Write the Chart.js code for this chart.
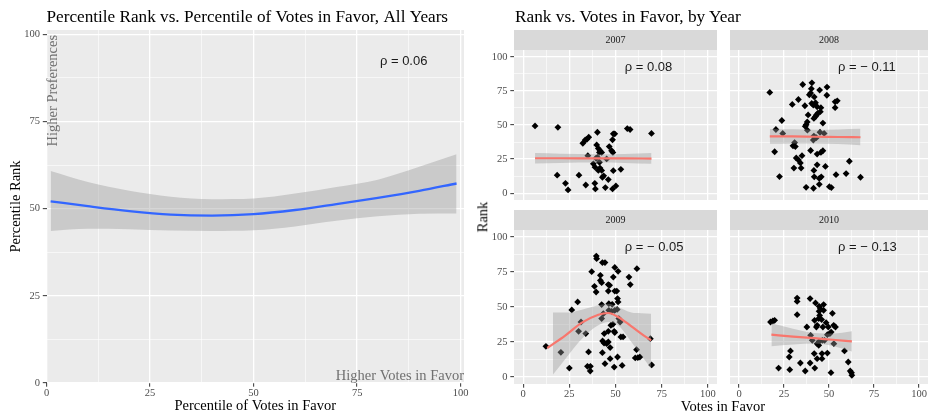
<!DOCTYPE html>
<html>
<head>
<meta charset="utf-8">
<script src="https://cdn.jsdelivr.net/npm/chart.js@4.4.1/dist/chart.umd.min.js"></script>
<style>
  html, body { margin: 0; padding: 0; width: 928px; height: 415px; overflow: hidden; background: #fff; }
  .box { position: absolute; }
  .txt { position: absolute; white-space: nowrap; font-family: "Liberation Serif", "Times New Roman", serif; color: #000; line-height: 1.2; }
</style>
</head>
<body>
<div class="box" style="left:0;top:0;width:470px;height:415px"><canvas id="cAll"></canvas></div>
<div class="box" style="left:484px;top:0;width:237px;height:204px"><canvas id="c2007"></canvas></div>
<div class="box" style="left:726px;top:0;width:206px;height:204px"><canvas id="c2008"></canvas></div>
<div class="box" style="left:484px;top:210px;width:237px;height:205px"><canvas id="c2009"></canvas></div>
<div class="box" style="left:726px;top:210px;width:206px;height:205px"><canvas id="c2010"></canvas></div>

<div class="txt" id="facetTitle" style="left:515px;top:17px;font-size:17.3px;transform:translateY(-50%)"></div>
<div class="txt" id="facetY" style="left:483px;top:217px;font-size:14.5px;transform:translate(-50%,-50%) rotate(-90deg)"></div>
<div class="txt" id="facetX" style="left:723px;top:407px;font-size:14.5px;transform:translate(-50%,-50%)"></div>

<script>
// ---------- all years: smoothed fit with confidence band ----------
const ALL_X     = [1, 10, 20, 30, 40, 50, 60, 70, 80, 90, 99];
const ALL_FIT   = [52.1, 50.7, 49.3, 48.3, 48.0, 48.4, 49.6, 51.3, 53.1, 55.1, 57.2];
const ALL_UPPER = [60.8, 57.6, 55.1, 53.4, 52.7, 52.9, 54.3, 56.2, 58.3, 62.0, 65.6];
const ALL_LOWER = [43.6, 44.2, 44.1, 43.7, 43.6, 43.8, 44.9, 46.5, 47.8, 48.5, 48.6];
const ALL_RHO   = 'ρ = 0.06';

// ---------- axis ticks ----------
const AXIS_TICKS = [0, 25, 50, 75, 100];
const GRID_STEPS = [0, 12.5, 25, 37.5, 50, 62.5, 75, 87.5, 100];

// ---------- text ----------
const TITLE_ALL   = 'Percentile Rank vs. Percentile of Votes in Favor, All Years';
const TITLE_FACET = 'Rank vs. Votes in Favor, by Year';
const X_TITLE_ALL = 'Percentile of Votes in Favor';
const Y_TITLE_ALL = 'Percentile Rank';
const X_TITLE_FACET = 'Votes in Favor';
const Y_TITLE_FACET = 'Rank';
const NOTE_Y = 'Higher Preferences';
const NOTE_X = 'Higher Votes in Favor';

// ---------- by year ----------
const YEARS = ['2007', '2008', '2009', '2010'];
const RHO   = ['ρ = 0.08', 'ρ = − 0.11', 'ρ = − 0.05', 'ρ = − 0.13'];

const VOTES_2007 = [6.4, 18.8, 18.4, 22.9, 24.3, 30.2, 32.3, 33.6, 34.5, 35.5, 33.9, 35.0, 38.8, 39.1, 40.2, 39.8, 40.7, 41.3, 41.6, 42.5, 40.2, 38.0, 38.9, 40.7, 41.6, 42.5, 41.3, 43.6, 42.9, 46.1, 44.5, 48.4, 50.2, 48.8, 52.9, 46.6, 47.9, 48.6, 48.4, 48.8, 49.6, 56.4, 57.9, 69.5, 45.2, 39.5];
const RANK_2007  = [49.3, 48.3, 13.2, 7.2, 2.4, 13.2, 36.6, 39.0, 39.5, 41.1, 6.0, 27.5, 7.2, 3.1, 44.7, 35.4, 32.8, 29.9, 31.1, 29.9, 26.3, 21.5, 19.1, 16.7, 18.4, 16.7, 22.7, 12.7, 11.7, 10.0, 4.1, 3.1, 5.3, 16.5, 17.5, 34.2, 31.1, 29.9, 39.2, 43.5, 43.5, 47.4, 46.7, 43.8, 25.1, 25.6];

const VOTES_2008 = [17.1, 35.4, 40.5, 40.2, 39.8, 39.1, 41.8, 44.8, 48.9, 48.8, 33.0, 29.6, 36.6, 40.4, 41.3, 42.5, 43.4, 45.5, 45.2, 53.4, 54.6, 53.4, 38.4, 43.8, 43.0, 42.5, 41.6, 37.9, 37.3, 36.8, 23.8, 20.5, 24.3, 46.6, 38.0, 45.0, 47.3, 41.6, 41.3, 43.0, 30.9, 30.0, 31.3, 19.8, 39.8, 43.4, 46.6, 45.5, 35.0, 31.8, 33.0, 34.1, 30.5, 34.5, 43.4, 48.0, 61.3, 41.6, 22.5, 41.8, 44.6, 45.7, 53.9, 59.5, 67.5, 37.3, 41.4, 44.6, 50.2, 51.3];
const RANK_2008  = [73.9, 79.7, 80.9, 76.6, 73.4, 72.2, 70.6, 75.6, 77.8, 71.8, 68.7, 65.1, 64.1, 65.8, 64.6, 66.3, 63.4, 62.7, 59.8, 67.0, 67.7, 62.7, 57.4, 58.6, 57.4, 56.2, 54.8, 52.2, 50.2, 49.0, 53.3, 46.7, 43.8, 51.4, 46.2, 44.7, 43.8, 41.9, 39.0, 40.7, 37.1, 34.7, 34.2, 30.4, 31.3, 28.7, 31.1, 29.9, 27.5, 25.8, 24.4, 22.2, 18.4, 18.4, 20.8, 19.6, 23.4, 16.7, 12.2, 12.0, 10.8, 12.0, 13.6, 14.4, 11.7, 4.3, 3.6, 6.5, 4.8, 4.1];

const VOTES_2009 = [12.3, 20.4, 25.0, 26.3, 29.5, 30.0, 31.3, 33.9, 35.4, 34.8, 36.4, 36.3, 37.1, 38.6, 39.5, 39.6, 39.8, 42.9, 44.3, 41.8, 41.8, 42.5, 46.1, 46.8, 49.6, 51.4, 48.8, 46.1, 49.6, 50.7, 51.1, 51.4, 42.5, 46.4, 48.2, 43.4, 42.5, 46.4, 47.9, 49.6, 50.9, 51.8, 47.5, 48.6, 49.3, 49.6, 43.9, 46.1, 43.0, 43.8, 45.2, 46.1, 47.1, 42.9, 44.3, 47.1, 49.3, 51.1, 53.6, 52.9, 54.1, 52.5, 57.3, 58.0, 61.6, 60.7, 61.4, 62.1, 63.2, 68.9, 69.6];
const RANK_2009  = [21.9, 17.6, 6.4, 47.9, 53.6, 32.6, 39.3, 31.0, 17.9, 7.6, 7.6, 4.3, 75.2, 64.8, 60.7, 86.4, 84.5, 81.7, 81.7, 72.6, 69.0, 67.4, 66.0, 65.5, 78.3, 75.5, 71.4, 61.4, 61.4, 61.4, 56.0, 53.6, 51.7, 52.4, 51.9, 45.2, 41.7, 47.6, 46.9, 47.6, 48.3, 41.7, 36.9, 37.6, 32.6, 31.7, 31.0, 32.6, 25.7, 24.3, 23.8, 25.0, 21.0, 17.4, 9.5, 13.1, 7.1, 14.3, 8.3, 28.6, 28.6, 39.3, 71.4, 66.0, 77.4, 13.6, 19.5, 13.8, 14.3, 27.4, 8.6];

const VOTES_2010 = [17.5, 18.8, 19.8, 22.0, 28.2, 27.9, 28.6, 32.3, 32.3, 32.3, 34.1, 36.8, 37.7, 39.5, 39.5, 39.8, 40.7, 41.8, 42.1, 42.5, 42.0, 43.4, 43.0, 43.4, 44.3, 43.4, 44.5, 45.2, 44.5, 44.8, 44.3, 45.9, 47.0, 46.6, 46.3, 46.1, 46.1, 48.4, 49.1, 49.1, 47.5, 49.6, 50.5, 51.2, 51.9, 52.6, 53.6, 52.7, 51.1, 58.6, 60.7, 61.8, 62.5, 62.7, 47.0, 44.6];
const RANK_2010  = [39.3, 40.0, 40.5, 6.4, 5.2, 14.3, 18.6, 56.4, 54.0, 44.5, 10.0, 4.3, 35.7, 56.0, 10.0, 29.8, 26.2, 16.7, 6.4, 52.9, 40.5, 36.9, 35.7, 23.8, 22.6, 13.1, 50.5, 48.8, 46.9, 44.0, 41.7, 41.0, 47.6, 35.7, 26.2, 16.7, 13.1, 38.8, 17.1, 30.2, 26.2, 35.7, 31.0, 32.1, 45.5, 36.9, 35.7, 23.8, 3.1, 18.6, 10.7, 4.3, 3.1, 1.2, 51.7, 25.5];

// smoothed fits per year (x, fitted value, band)
const FIT_X_2007   = [6.4, 20, 40, 55, 69.5];
const FIT_2007     = [25.6, 25.6, 25.5, 25.5, 25.4];
const UPPER_2007   = [29.4, 28.9, 28.5, 28.8, 29.4];
const LOWER_2007   = [21.7, 22.2, 22.5, 22.2, 21.5];

const FIT_X_2008   = [17.1, 30, 42, 55, 67.5];
const FIT_2008     = [41.7, 41.6, 41.4, 41.2, 41.0];
const UPPER_2008   = [47.1, 46.8, 46.5, 46.7, 47.2];
const LOWER_2008   = [36.2, 36.4, 36.5, 36.1, 35.2];

const FIT_X_2009   = [13, 22.9, 31.8, 40.7, 46.1, 51.4, 58.6, 63.9, 69.3];
const FIT_2009     = [20.7, 29.8, 38.8, 44.5, 45.7, 42.9, 36.2, 31.0, 26.2];
const BAND_X_2009  = [16.1, 22.9, 31.8, 40.7, 46.1, 51.4, 58.6, 63.9, 69.3];
const UPPER_2009   = [46.0, 46.0, 48.1, 51.2, 52.4, 50.0, 46.0, 45.5, 45.2];
const LOWER_2009   = [1.7, 13.1, 27.4, 36.9, 39.3, 36.9, 25.0, 15.5, 6.0];

const FIT_X_2010   = [18, 30, 42, 52, 62.7];
const FIT_2010     = [30.2, 28.9, 27.7, 26.6, 25.5];
const UPPER_2010   = [38.4, 34.5, 31.5, 31.1, 32.7];
const LOWER_2010   = [22.0, 23.3, 23.9, 22.1, 18.3];

// ---------- styling ----------
const SERIF = '"Liberation Serif", "Times New Roman", serif';
const SANS  = '"Liberation Sans", Arial, sans-serif';
const TICK_FONT = { family: SERIF, size: 10.5, lineHeight: 1.2 };
const BAND_FILL = 'rgba(153,153,153,0.4)';

const isMajor = v => AXIS_TICKS.includes(v);
const pairs = (xs, ys) => xs.map((x, i) => ({ x, y: ys[i] }));

function linearAxis(min, max, show, size, title, labelPad) {
  return {
    type: 'linear', min, max,
    border: { display: false },
    grid: {
      color: '#FFFFFF',
      lineWidth: c => (c.tick && isMajor(c.tick.value)) ? 1.3 : 0.6,
      drawTicks: show,
      tickLength: 3.7,
      tickWidth: 1,
      tickColor: c => (c.tick && isMajor(c.tick.value)) ? '#333333' : 'rgba(0,0,0,0)'
    },
    afterBuildTicks: s => { s.ticks = GRID_STEPS.filter(v => v >= min && v <= max).map(v => ({ value: v })); },
    ticks: {
      display: show, autoSkip: false, maxRotation: 0, minRotation: 0,
      padding: labelPad, color: '#4D4D4D', font: TICK_FONT,
      callback: v => isMajor(v) ? String(v) : ''
    },
    title: title || { display: false },
    afterFit: s => {
      if (s.isHorizontal()) s.height = size; else s.width = size;
      s.paddingLeft = 0; s.paddingRight = 0; s.paddingTop = 0; s.paddingBottom = 0;
    }
  };
}

// grey panel and facet strip behind everything
const panelPlugin = {
  id: 'panel',
  beforeDraw(chart, args, opts) {
    const { ctx, chartArea: a } = chart;
    ctx.save();
    ctx.fillStyle = '#EBEBEB';
    ctx.fillRect(a.left, a.top, a.right - a.left, a.bottom - a.top);
    if (opts.strip) {
      ctx.fillStyle = '#D9D9D9';
      ctx.fillRect(a.left, a.top - opts.strip, a.right - a.left, opts.strip);
    }
    ctx.restore();
  }
};

// text notes placed in data coordinates
const notesPlugin = {
  id: 'notes',
  afterDatasetsDraw(chart, args, opts) {
    const { ctx, scales: { x, y } } = chart;
    for (const n of (opts.items || [])) {
      ctx.save();
      ctx.font = n.font;
      ctx.fillStyle = n.color;
      ctx.textAlign = n.align;
      ctx.textBaseline = n.baseline;
      ctx.translate(x.getPixelForValue(n.x), y.getPixelForValue(n.y));
      if (n.rotate) ctx.rotate(n.rotate);
      ctx.fillText(n.text, 0, 0);
      ctx.restore();
    }
  }
};

const baseOptions = {
  responsive: true,
  maintainAspectRatio: false,
  animation: false,
  events: []
};

// ---------- all years chart ----------
new Chart(document.getElementById('cAll'), {
  type: 'scatter',
  data: {
    datasets: [
      { type: 'line', data: pairs(ALL_X, ALL_FIT), borderColor: '#3366FF', borderWidth: 2.3,
        pointRadius: 0, cubicInterpolationMode: 'monotone', fill: false, order: 0 },
      { type: 'line', data: pairs(ALL_X, ALL_UPPER), borderWidth: 0, pointRadius: 0,
        cubicInterpolationMode: 'monotone', fill: false, order: 1 },
      { type: 'line', data: pairs(ALL_X, ALL_LOWER), borderWidth: 0, pointRadius: 0,
        cubicInterpolationMode: 'monotone', fill: '-1', backgroundColor: BAND_FILL, order: 1 }
    ]
  },
  options: {
    ...baseOptions,
    layout: { padding: { left: 0, right: 6, top: 0, bottom: 0 } },
    scales: {
      x: linearAxis(0, 100.8, true, 32, {
        display: true, text: X_TITLE_ALL, color: '#000',
        font: { family: SERIF, size: 14.5, lineHeight: 1.2 }, padding: { top: 0, bottom: 0 }
      }, 0.6),
      y: linearAxis(0, 101.2, true, 46.5, {
        display: true, text: Y_TITLE_ALL, color: '#000',
        font: { family: SERIF, size: 14.5, lineHeight: 1.2 }, padding: { top: 7.3, bottom: 0 }
      }, 2.9)
    },
    plugins: {
      legend: { display: false },
      tooltip: { enabled: false },
      title: {
        display: true, text: TITLE_ALL, align: 'start', fullSize: false, color: '#000',
        font: { family: SERIF, size: 17.2, weight: 'normal', lineHeight: 1.2 },
        padding: { top: 6.8, bottom: 2.6 }
      },
      panel: {},
      notes: {
        items: [
          { text: ALL_RHO, x: 80.5, y: 92.1, font: '13px ' + SANS, color: '#1A1A1A', align: 'left', baseline: 'middle' },
          { text: NOTE_Y, x: 1.5, y: 99.8, font: '14.5px ' + SERIF, color: '#707070', align: 'right', baseline: 'middle', rotate: -Math.PI / 2 },
          { text: NOTE_X, x: 100.8, y: 1.0, font: '14.5px ' + SERIF, color: '#707070', align: 'right', baseline: 'alphabetic' }
        ]
      }
    }
  },
  plugins: [panelPlugin, notesPlugin]
});

// ---------- by-year facets ----------
function facet(canvasId, idx, votes, rank, fitX, fit, bandX, upper, lower, showY, showX, padTop, padRight) {
  new Chart(document.getElementById(canvasId), {
    type: 'scatter',
    data: {
      datasets: [
        { type: 'line', data: pairs(fitX, fit), borderColor: '#F8766D', borderWidth: 2.2,
          pointRadius: 0, cubicInterpolationMode: 'monotone', fill: false, order: 0 },
        { type: 'line', data: pairs(bandX, upper), borderWidth: 0, pointRadius: 0,
          cubicInterpolationMode: 'monotone', fill: false, order: 1 },
        { type: 'line', data: pairs(bandX, lower), borderWidth: 0, pointRadius: 0,
          cubicInterpolationMode: 'monotone', fill: '-1', backgroundColor: BAND_FILL, order: 1 },
        { type: 'scatter', data: pairs(votes, rank), pointStyle: 'rectRot', pointRadius: 3.4,
          backgroundColor: '#000000', borderWidth: 0, order: 2 }
      ]
    },
    options: {
      ...baseOptions,
      layout: { padding: { left: 0, right: padRight, top: padTop, bottom: 0 } },
      scales: {
        x: linearAxis(-5, 105, showX, showX ? 31 : 0, null, 0.6),
        y: linearAxis(-5, 105, showY, showY ? 30 : 0, null, 2.9)
      },
      plugins: {
        legend: { display: false },
        tooltip: { enabled: false },
        subtitle: {
          display: true, text: YEARS[idx], align: 'center', fullSize: false, color: '#1A1A1A',
          font: { family: SERIF, size: 10, weight: 'normal', lineHeight: 1.2 },
          padding: { top: 4, bottom: 4 }
        },
        panel: { strip: 20 },
        notes: {
          items: [
            { text: RHO[idx], x: 55, y: 92.5, font: '13px ' + SANS, color: '#1A1A1A', align: 'left', baseline: 'middle' }
          ]
        }
      }
    },
    plugins: [panelPlugin, notesPlugin]
  });
}

facet('c2007', 0, VOTES_2007, RANK_2007, FIT_X_2007, FIT_2007, FIT_X_2007, UPPER_2007, LOWER_2007, true, false, 30, 1);
facet('c2008', 1, VOTES_2008, RANK_2008, FIT_X_2008, FIT_2008, FIT_X_2008, UPPER_2008, LOWER_2008, false, false, 30, 0);
facet('c2009', 2, VOTES_2009, RANK_2009, FIT_X_2009, FIT_2009, BAND_X_2009, UPPER_2009, LOWER_2009, true, true, 0, 1);
facet('c2010', 3, VOTES_2010, RANK_2010, FIT_X_2010, FIT_2010, FIT_X_2010, UPPER_2010, LOWER_2010, false, true, 0, 0);

document.getElementById('facetTitle').textContent = TITLE_FACET;
document.getElementById('facetY').textContent = Y_TITLE_FACET;
document.getElementById('facetX').textContent = X_TITLE_FACET;
</script>
</body>
</html>
